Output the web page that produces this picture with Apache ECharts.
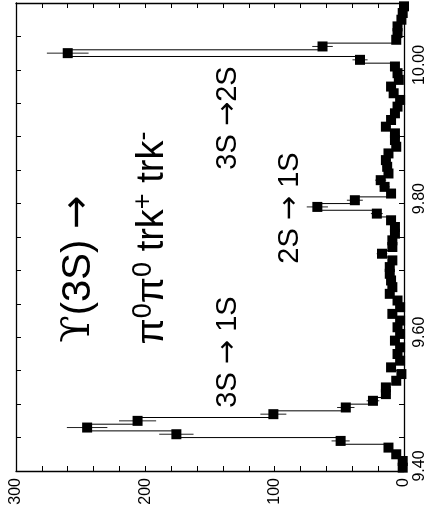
<!DOCTYPE html>
<html>
<head>
<meta charset="utf-8">
<script src="https://cdn.jsdelivr.net/npm/echarts@6/dist/echarts.min.js"></script>
<style>
html,body{margin:0;padding:0;background:#fff;}
#chart{width:431px;height:518px;}
</style>
</head>
<body>
<div id="chart"></div>
<script>
// Bin centres of the mass histogram (GeV), bin width 0.01
const binStart = 9.40;
const binWidth = 0.01;
// Events per bin, starting at bin 9.405
const counts = [
  1, 1, 6, 12, 49, 176, 245, 206, 101, 45,
  24, 14, 14, 6, 2, 10, 3, 5, 3, 7,
  3, 5, 3, 9, 3, 5, 11, 9, 10, 11,
  11, 9, 17, 9, 9, 7, 7, 10, 21, 67,
  38, 10, 15, 18, 12, 13, 14, 12, 6, 7,
  7, 14, 10, 7, 5, 3, 8, 10, 4, 5,
  7, 34, 260, 63, 6, 5, 5, 2, 1, 0
];
const massTickLabels = ['9.40', '9.60', '9.80', '10.00'];
const countTickLabels = ['0', '100', '200', '300'];
const titleLine1 = '{u|ϒ}(3S) {a|→}';
const titleLine2 = 'π{s|0}π{s|0} trk{s|+} trk{s|-}';
const transitionLabels = ['3S {a|→} 1S', '2S {a|→} 1S', '3S {a|→}2S'];

const centres = counts.map((c, i) => +(binStart + binWidth * (i + 0.5)).toFixed(4));
const points = counts.map((c, i) => [c, centres[i], Math.sqrt(c)]);
const steps = [];
counts.forEach((c, i) => {
  steps.push([c, +(binStart + binWidth * i).toFixed(4)]);
  steps.push([c, +(binStart + binWidth * (i + 1)).toFixed(4)]);
});

const FONT = "'Liberation Sans', Arial, Helvetica, sans-serif";
const ARROW_FONT = "'DejaVu Sans', sans-serif";
const chart = echarts.init(document.getElementById('chart'), null, {renderer: 'canvas'});

const axisCommon = {
  axisLine: {show: true, onZero: false, lineStyle: {color: '#000', width: 1.3}},
  axisTick: {show: true, inside: true, length: 5, lineStyle: {color: '#000', width: 1}},
  splitLine: {show: false}
};

const fmtCount = v => countTickLabels.indexOf(String(Math.round(v))) >= 0 && Math.abs(v - Math.round(v)) < 1e-6 ? String(Math.round(v)) : '';
const fmtMass = v => {
  const s = v.toFixed(2);
  return massTickLabels.indexOf(s) >= 0 ? s : '';
};

const rotText = (text, x, y, size, rich) => ({
  type: 'text', x: x, y: y, rotation: Math.PI / 2, z: 100,
  style: {
    text: text, fill: '#000', font: size + 'px ' + FONT,
    fontSize: size, fontFamily: FONT,
    align: 'center', verticalAlign: 'middle',
    textAlign: 'center', textVerticalAlign: 'middle',
    rich: Object.assign({a: {fontFamily: ARROW_FONT, fontSize: size, fill: '#000'}}, rich || {})
  }
});

chart.setOption({
  animation: false,
  backgroundColor: '#fff',
  grid: {left: 16, right: 27, top: 3, bottom: 47, containLabel: false},
  xAxis: [
    Object.assign({}, axisCommon, {
      type: 'value', min: 0, max: 300, interval: 20, inverse: true, position: 'bottom',
      axisLabel: {show: true, rotate: 90, margin: 7, color: '#000', fontSize: 16, fontFamily: FONT, formatter: fmtCount}
    }),
    Object.assign({}, axisCommon, {
      type: 'value', min: 0, max: 300, interval: 20, inverse: true, position: 'top',
      axisLabel: {show: false}
    })
  ],
  yAxis: [
    Object.assign({}, axisCommon, {
      type: 'value', min: 9.40, max: 10.10, interval: 0.05, position: 'right',
      axisLabel: {show: true, rotate: 90, margin: 8, color: '#000', fontSize: 16, fontFamily: FONT, formatter: fmtMass, padding: [0, 0, 0, 10]}
    }),
    Object.assign({}, axisCommon, {
      type: 'value', min: 9.40, max: 10.10, interval: 0.05, position: 'left',
      axisLabel: {show: false}
    })
  ],
  series: [
    {
      type: 'line', data: steps, xAxisIndex: 0, yAxisIndex: 0,
      showSymbol: false, symbol: 'none', silent: true,
      lineStyle: {color: '#000', width: 1}, z: 2
    },
    {
      type: 'custom', xAxisIndex: 0, yAxisIndex: 0, data: points, z: 3,
      renderItem: function (params, api) {
        const c = api.value(0), m = api.value(1), e = api.value(2);
        const p1 = api.coord([Math.max(0, c - e), m]);
        const p2 = api.coord([c + e, m]);
        return {
          type: 'line',
          shape: {x1: p1[0], y1: p1[1], x2: p2[0], y2: p2[1]},
          style: {stroke: '#222', lineWidth: 1}
        };
      }
    },
    {
      type: 'scatter', data: points.map(p => [p[0], p[1]]), xAxisIndex: 0, yAxisIndex: 0,
      symbol: 'rect', symbolSize: 10, itemStyle: {color: '#000', opacity: 1}, z: 4, silent: true
    }
  ],
  graphic: [
    rotText(titleLine1, 79, 269, 40, {u: {fontFamily: "'DejaVu Serif', 'Liberation Serif', serif", fontSize: 40, fill: '#000'}}),
    rotText(titleLine2, 153, 238, 38, {s: {fontSize: 27, verticalAlign: 'top', lineHeight: 46, fontFamily: FONT, fill: '#000'}}),
    rotText(transitionLabels[0], 228, 352, 29),
    rotText(transitionLabels[1], 290, 208, 29),
    rotText(transitionLabels[2], 228, 118, 29)
  ]
});
</script>
</body>
</html>
